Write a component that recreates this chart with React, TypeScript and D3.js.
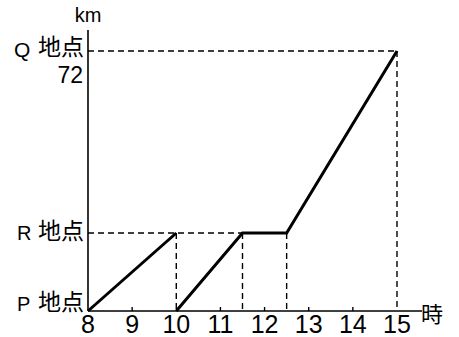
import React from "react";
import * as d3 from "d3";

const xTicks = [8, 9, 10, 11, 12, 13, 14, 15];
const innerTicks = [9, 11, 12, 13, 14];
const R_KM = 21.6;
const Q_KM = 72;
const trip1: [number, number][] = [[8, 0], [10, R_KM]];
const trip2: [number, number][] = [[10, 0], [11.5, R_KM], [12.5, R_KM], [15, Q_KM]];
const vGuides: [number, number][] = [[10, R_KM], [11.5, R_KM], [12.5, R_KM], [15, Q_KM]];
const hGuides: [number, number][] = [[11.5, R_KM], [15, Q_KM]];

export default function App() {
  const W = 459, H = 337;
  const x = d3.scaleLinear().domain([8, 15]).range([88, 397]);
  const y = d3.scaleLinear().domain([0, 72]).range([311, 51]);
  const line = d3.line<[number, number]>().x(d => x(d[0])).y(d => y(d[1]));
  const latin = "'Liberation Sans Narrow', 'Liberation Sans', Arial, sans-serif";
  const sans = "'Liberation Sans', Arial, sans-serif";
  const cjk = "'Noto Sans CJK JP', sans-serif";
  const dash = "6 4";
  return (
    <svg width={W} height={H} style={{ position: "absolute", left: 0, top: 0, background: "#fff" }}>
      {hGuides.map(([gx, gy], i) => (
        <line key={"h" + i} x1={x(8)} x2={x(gx)} y1={y(gy)} y2={y(gy)} stroke="#000" strokeWidth={1.4} strokeDasharray={dash} />
      ))}
      {vGuides.map(([gx, gy], i) => (
        <line key={"v" + i} x1={x(gx)} x2={x(gx)} y1={y(gy)} y2={y(0)} stroke="#000" strokeWidth={1.4} strokeDasharray={dash} />
      ))}
      <line x1={x(8)} x2={x(8)} y1={30} y2={y(0)} stroke="#000" strokeWidth={1.6} />
      <line x1={x(8)} x2={422} y1={y(0)} y2={y(0)} stroke="#000" strokeWidth={1.6} />
      {innerTicks.map(t => (
        <line key={t} x1={x(t)} x2={x(t)} y1={y(0)} y2={y(0) - 4} stroke="#000" strokeWidth={1.4} />
      ))}
      <path d={line(trip1) || ""} fill="none" stroke="#000" strokeWidth={3} />
      <path d={line(trip2) || ""} fill="none" stroke="#000" strokeWidth={3} />
      {xTicks.map(t => (
        <text key={t} x={x(t)} y={333} textAnchor="middle" fontFamily={latin} fontSize={25} fill="#000">{t}</text>
      ))}
      <text x={421} y={322} fontFamily={cjk} fontSize={22} fill="#000">時</text>
      <text x={88} y={22} textAnchor="middle" fontFamily={sans} fontSize={20} fill="#000">km</text>
      <text x={14} y={57} fontFamily={sans} fontSize={21} fill="#000">Q</text>
      <text x={84} y={55} textAnchor="end" fontFamily={cjk} fontSize={23} fill="#000">地点</text>
      <text x={83} y={83} textAnchor="end" fontFamily={latin} fontSize={23} fill="#000">{Q_KM}</text>
      <text x={17} y={240} fontFamily={sans} fontSize={20} fill="#000">R</text>
      <text x={84} y={239} textAnchor="end" fontFamily={cjk} fontSize={23} fill="#000">地点</text>
      <text x={17} y={311} fontFamily={sans} fontSize={20} fill="#000">P</text>
      <text x={84} y={310} textAnchor="end" fontFamily={cjk} fontSize={23} fill="#000">地点</text>
    </svg>
  );
}
